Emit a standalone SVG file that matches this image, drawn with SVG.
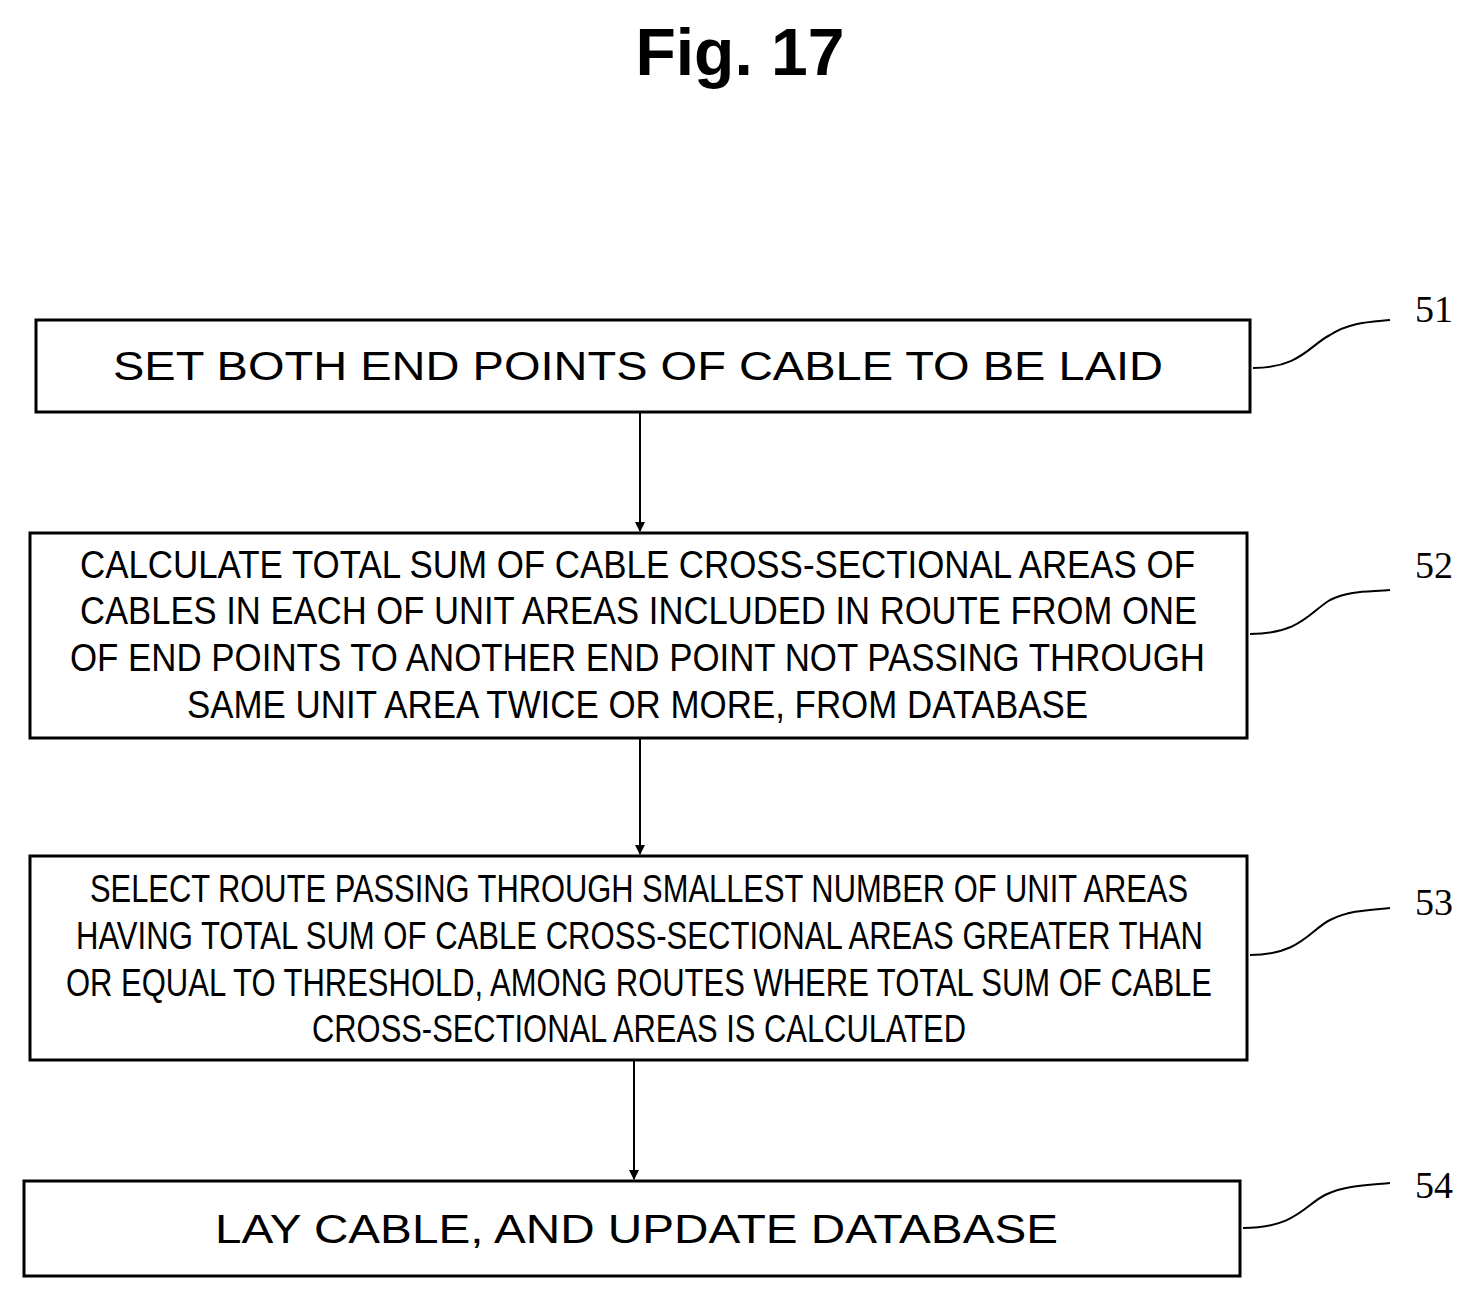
<svg xmlns="http://www.w3.org/2000/svg" width="1479" height="1300" viewBox="0 0 1479 1300">
<style>
.box{fill:#fff;stroke:#000;stroke-width:3}
.t{font-family:"Liberation Sans",Arial,sans-serif;font-size:40px;fill:#000}
.c{font-family:"Liberation Sans",Arial,sans-serif;font-size:38px;fill:#000}
.n{font-family:"Liberation Serif","Times New Roman",serif;font-size:38px;fill:#000}
.sq{fill:none;stroke:#000;stroke-width:2}
.ar{stroke:#000;stroke-width:2;marker-end:url(#ah)}
</style>
<defs><marker id="ah" markerWidth="10" markerHeight="10" refX="9" refY="5" orient="auto" markerUnits="userSpaceOnUse"><path d="M0,0 L10,5 L0,10 Z" transform="rotate(0)" fill="#000"/></marker></defs>
<rect width="1479" height="1300" fill="#fff"/>
<text x="740" y="75" text-anchor="middle" font-family="Liberation Sans,Arial,sans-serif" font-weight="bold" font-size="66">Fig. 17</text>
<g id="connectors">
<line class="ar" x1="640" y1="412" x2="640" y2="531"/>
<line class="ar" x1="640" y1="738" x2="640" y2="854"/>
<line class="ar" x1="634" y1="1060" x2="634" y2="1179"/>
<path class="sq" d="M1253,368 C1300,368 1310,345 1330,335 C1350,322 1370,322 1390,320"/>
<path class="sq" d="M1250,634 C1300,634 1310,612 1330,600 C1350,590 1370,592 1390,590"/>
<path class="sq" d="M1250,955 C1300,955 1310,930 1330,920 C1350,910 1370,910 1390,908"/>
<path class="sq" d="M1243,1228 C1295,1228 1305,1205 1325,1195 C1345,1185 1370,1185 1390,1183"/>
</g>
<g id="n51"><rect class="box" x="36" y="320" width="1214" height="92"/>
<text class="t" x="638" y="380" text-anchor="middle" textLength="1050" lengthAdjust="spacingAndGlyphs">SET BOTH END POINTS OF CABLE TO BE LAID</text>
<text class="n" x="1415" y="322">51</text></g>
<g id="n52"><rect class="box" x="30" y="533" width="1217" height="205"/>
<text class="c" x="80" y="578" textLength="1115" lengthAdjust="spacingAndGlyphs">CALCULATE TOTAL SUM OF CABLE CROSS-SECTIONAL AREAS OF</text>
<text class="c" x="80" y="624" textLength="1117" lengthAdjust="spacingAndGlyphs">CABLES IN EACH OF UNIT AREAS INCLUDED IN ROUTE FROM ONE</text>
<text class="c" x="70" y="671" textLength="1135" lengthAdjust="spacingAndGlyphs">OF END POINTS TO ANOTHER END POINT NOT PASSING THROUGH</text>
<text class="c" x="187" y="718" textLength="901" lengthAdjust="spacingAndGlyphs">SAME UNIT AREA TWICE OR MORE, FROM DATABASE</text>
<text class="n" x="1415" y="578">52</text></g>
<g id="n53"><rect class="box" x="30" y="856" width="1217" height="204"/>
<text class="c" x="90" y="902" textLength="1098" lengthAdjust="spacingAndGlyphs">SELECT ROUTE PASSING THROUGH SMALLEST NUMBER OF UNIT AREAS</text>
<text class="c" x="76" y="949" textLength="1127" lengthAdjust="spacingAndGlyphs">HAVING TOTAL SUM OF CABLE CROSS-SECTIONAL AREAS GREATER THAN</text>
<text class="c" x="66" y="996" textLength="1146" lengthAdjust="spacingAndGlyphs">OR EQUAL TO THRESHOLD, AMONG ROUTES WHERE TOTAL SUM OF CABLE</text>
<text class="c" x="312" y="1042" textLength="654" lengthAdjust="spacingAndGlyphs">CROSS-SECTIONAL AREAS IS CALCULATED</text>
<text class="n" x="1415" y="915">53</text></g>
<g id="n54"><rect class="box" x="24" y="1181" width="1216" height="95"/>
<text class="t" x="215" y="1243" textLength="843" lengthAdjust="spacingAndGlyphs">LAY CABLE, AND UPDATE DATABASE</text>
<text class="n" x="1415" y="1198">54</text></g>
</svg>
